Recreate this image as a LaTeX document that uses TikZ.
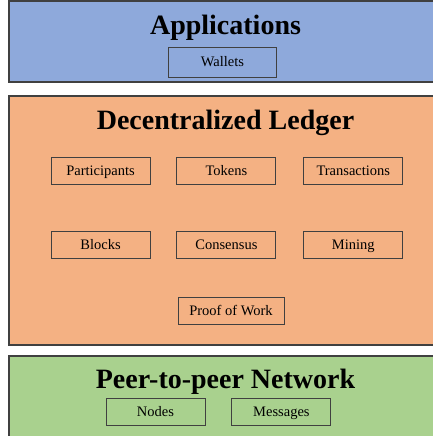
\documentclass[tikz,border=0pt]{standalone}
\usepackage{fontspec}
\setmainfont{Liberation Serif}
\usetikzlibrary{positioning}

\definecolor{appblue}{HTML}{8EA9DB}
\definecolor{ledgerorange}{HTML}{F4B183}
\definecolor{netgreen}{HTML}{A9D18E}
\definecolor{edgegray}{HTML}{404040}

\tikzset{
	layer/.style={draw=edgegray, line width=1.2pt},
	title/.style={font=\fontsize{28}{30}\selectfont\bfseries, anchor=base, inner sep=0pt},
	item/.style={draw=edgegray, line width=0.9pt, minimum width=99pt, minimum height=27pt,
		inner sep=0pt, text height=11pt, text depth=2pt, font=\fontsize{14.5}{16}\selectfont}
}

\begin{document}
\begin{tikzpicture}[x=1pt, y=-1pt, node distance=26pt]
	\clip (0,0) rectangle (433,436);
	\fill[white] (0,0) rectangle (433,436);

	% layers
	\draw[layer, fill=appblue] (9,1) rectangle (445,82);
	\draw[layer, fill=ledgerorange] (9,96) rectangle (445,345);
	\draw[layer, fill=netgreen] (9,356) rectangle (445,470);

	% applications
	\node[title] (apps) at (225.5,35) {Applications};
	\node[item, minimum width=108pt, minimum height=30pt] (wallets) at (222.5,62) {Wallets};

	% ledger
	\node[title] (ledger) at (225.5,129) {Decentralized Ledger};
	\node[item] (parts) at (100.5,170.5) {Participants};
	\node[item] (tokens) [right=of parts] {Tokens};
	\node[item] (trans) [right=27pt of tokens] {Transactions};
	\node[item] (blocks) at (100.5,245) {Blocks};
	\node[item] (consensus) [right=of blocks] {Consensus};
	\node[item] (mining) [right=27pt of consensus] {Mining};
	\node[item, minimum width=106pt] (pow) at (231,310.5) {Proof of Work};

	% network
	\node[title] (net) at (225.5,388) {Peer-to-peer Network};
	\node[item] (nodes) at (155.5,412) {Nodes};
	\node[item] (msgs) [right=of nodes] {Messages};
\end{tikzpicture}
\end{document}
